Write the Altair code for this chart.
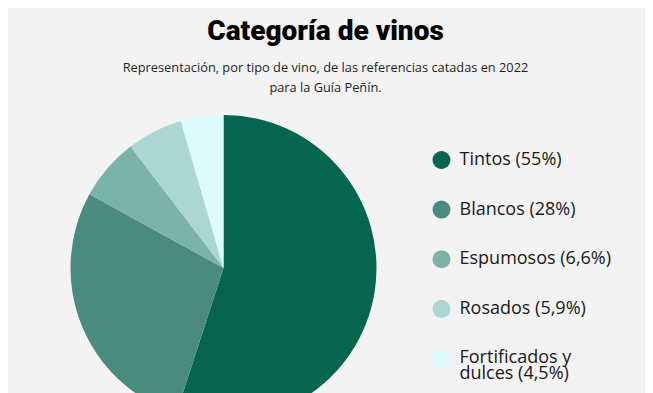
import altair as alt
import pandas as pd

categories = ["Tintos", "Blancos", "Espumosos", "Rosados", "Fortificados y dulces"]
shares = [55, 28, 6.6, 5.9, 4.5]
legend_labels = ["Tintos (55%)", "Blancos (28%)", "Espumosos (6,6%)", "Rosados (5,9%)", "Fortificados y|dulces (4,5%)"]
colors = ["#05654f", "#4b8a7e", "#7bb3ab", "#acd6d3", "#ddfcfc"]
title_text = "Categoría de vinos"
subtitle_lines = ["Representación, por tipo de vino, de las referencias catadas en 2022", "para la Guía Peñín."]

df = pd.DataFrame({"categoria": categories, "label": legend_labels, "share": shares, "order": list(range(len(categories)))})

pie = alt.Chart(df).mark_arc(radius=153, strokeWidth=0).encode(
    theta=alt.Theta("share:Q", stack=True),
    order=alt.Order("order:Q"),
    color=alt.Color(
        "label:N",
        sort=legend_labels,
        scale=alt.Scale(domain=legend_labels, range=colors),
        legend=alt.Legend(
            title=None, orient="none", legendX=424.5, legendY=143,
            symbolType="circle", symbolSize=324, symbolStrokeWidth=0, symbolOpacity=1,
            labelFontSize=18, labelFont="Open Sans", labelColor="#1a1a1a",
            rowPadding=31.6, labelOffset=9, labelLimit=300,
            labelExpr="split(datum.label, '|')",
        ),
    ),
    x=alt.value(215.5),
    y=alt.value(260),
)

title = alt.Chart(alt.Data(values=[{"t": title_text}])).mark_text(
    font="Roboto", fontSize=28, fontWeight=900,
    color="#000000", align="center", baseline="alphabetic",
).encode(text="t:N", x=alt.value(317.5), y=alt.value(32))

subtitle = alt.Chart(alt.Data(values=[{"t": 0}])).mark_text(
    font="Open Sans", fontSize=12.8, color="#1e1e1e", align="center", baseline="top", lineHeight=20,
).encode(text=alt.value(subtitle_lines), x=alt.value(317.5), y=alt.value(54))

chart = alt.layer(pie, title, subtitle).properties(
    width=637, height=400, autosize=alt.AutoSizeParams(type="none"), padding=0,
    background="#f3f3f3",
).configure(style={"guide-label": {"lineHeight": 16}}).configure_view(stroke=None)

chart.save("out.html", embed_options={"renderer": "svg", "actions": False})
